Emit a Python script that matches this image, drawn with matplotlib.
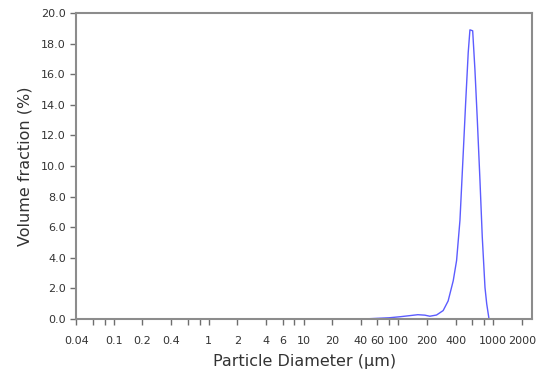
import numpy as np
import matplotlib.pyplot as plt
from matplotlib.ticker import FixedLocator, FixedFormatter, NullFormatter

# particle size distribution
diameter_um = [33, 50, 80, 105, 132, 160, 190, 214, 252, 296, 334, 378, 410, 445, 463,
               482, 511, 544, 567, 606, 640, 678, 723, 765, 817, 852, 901]
volume_pct = [0.0, 0.02, 0.08, 0.15, 0.22, 0.28, 0.25, 0.18, 0.26, 0.55, 1.18, 2.5, 3.82, 6.45, 8.64,
              10.86, 14.14, 17.43, 18.9, 18.84, 16.3, 13.03, 9.08, 5.35, 2.06, 0.99, 0.0]

major_ticks = [0.04, 0.1, 0.2, 0.4, 1, 2, 4, 6, 10, 20, 40, 60, 100, 200, 400, 1000, 2000]
major_labels = ["0.04", "0.1", "0.2", "0.4", "1", "2", "4", "6", "10", "20", "40", "60",
                "100", "200", "400", "1000", "2000"]
minor_ticks = [0.06, 0.08, 0.6, 0.8, 8, 80, 600, 800]
y_ticks = np.arange(0, 21, 2)

fig = plt.figure(figsize=(5.44, 3.72), dpi=100)
ax = fig.add_axes([0.140, 0.1425, 0.838, 0.8225])

ax.plot(diameter_um, volume_pct, color="#5c5cff", lw=1.0)

ax.set_xscale("log")
ax.set_xlim(0.04, 2560)
ax.set_ylim(0, 20)

ax.xaxis.set_major_locator(FixedLocator(major_ticks))
ax.xaxis.set_major_formatter(FixedFormatter(major_labels))
ax.xaxis.set_minor_locator(FixedLocator(minor_ticks))
ax.xaxis.set_minor_formatter(NullFormatter())
ax.set_yticks(y_ticks)
ax.set_yticklabels([f"{v:.1f}" for v in y_ticks])

for s in ax.spines.values():
    s.set_color("#8c8c8c")
    s.set_linewidth(1.5)

ax.tick_params(axis="both", which="both", direction="out", length=4, width=1,
               color="#6e6e6e", labelsize=8, labelcolor="#333333")
ax.tick_params(axis="x", which="both", pad=8)

ax.set_xlabel("Particle Diameter (µm)", fontsize=11.5, color="#333333", labelpad=6)
ax.set_ylabel("Volume fraction (%)", fontsize=11.5, color="#333333", labelpad=6)

fig.savefig("out.png", dpi=100)
